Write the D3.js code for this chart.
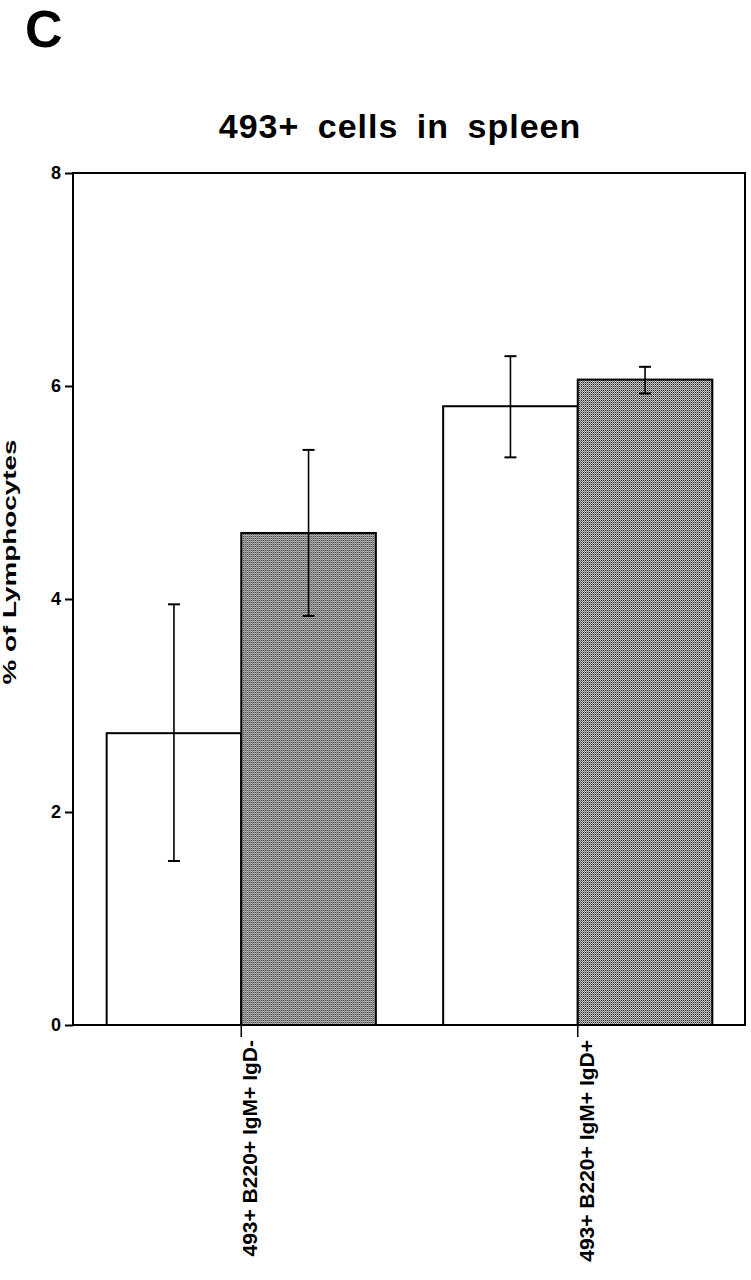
<!DOCTYPE html>
<html>
<head>
<meta charset="utf-8">
<script src="https://cdn.jsdelivr.net/npm/d3@7"></script>
<style>
  body { margin: 0; background: #fff; }
  text { font-family: "Liberation Sans", Arial, sans-serif; fill: #000; }
</style>
</head>
<body>
<div id="container"></div>
<script>
/* DATA */
const categories = ["493+ B220+ IgM+ IgD-", "493+ B220+ IgM+ IgD+"];
const series = ["open", "filled"];
const means = [[2.74, 4.62], [5.81, 6.06]];
const errLow = [[1.54, 3.84], [5.33, 5.93]];
const errHigh = [[3.95, 5.40], [6.28, 6.18]];
const yTicks = [0, 2, 4, 6, 8];

/* CONSTANTS */
const width = 751, height = 1280;
const margin = { top: 173, right: 5, bottom: 255, left: 73 };

const svg = d3.select("#container")
  .append("svg")
  .attr("width", width)
  .attr("height", height);

// stipple pattern for the shaded bars
const defs = svg.append("defs");
const pat = defs.append("pattern")
  .attr("id", "stipple")
  .attr("width", 2).attr("height", 2)
  .attr("patternUnits", "userSpaceOnUse");
pat.append("rect").attr("width", 2).attr("height", 2).attr("fill", "#d8d8d8");
pat.append("rect").attr("width", 1).attr("height", 1).attr("fill", "#111");
pat.append("rect").attr("x", 1).attr("y", 1).attr("width", 1).attr("height", 1).attr("fill", "#707070");

// SCALES
const y = d3.scaleLinear()
  .domain([0, 8])
  .range([height - margin.bottom, margin.top]);

const x0 = d3.scaleBand()
  .domain(categories)
  .range([margin.left, width - margin.right])
  .paddingInner(0.2)
  .paddingOuter(0.1);

const x1 = d3.scaleBand()
  .domain(series)
  .range([0, x0.bandwidth()]);

// PANEL LETTER + TITLE
svg.append("text")
  .attr("x", 25).attr("y", 47)
  .style("font-size", "52px").style("font-weight", "bold")
  .text("C");

svg.append("text")
  .attr("x", 400).attr("y", 138)
  .attr("text-anchor", "middle")
  .style("font-size", "34px").style("font-weight", "bold")
  .style("letter-spacing", "1px")
  .style("word-spacing", "8px")
  .text("493+ cells in spleen");

// BARS
const groups = svg.selectAll("g.group")
  .data(categories)
  .join("g")
  .attr("class", "group")
  .attr("transform", d => `translate(${x0(d)},0)`);

groups.each(function (cat, i) {
  const g = d3.select(this);
  series.forEach((s, j) => {
    g.append("rect")
      .attr("x", x1(s))
      .attr("y", y(means[i][j]))
      .attr("width", x1.bandwidth())
      .attr("height", y(0) - y(means[i][j]))
      .attr("fill", j === 0 ? "#fff" : "url(#stipple)")
      .attr("stroke", "#000")
      .attr("stroke-width", 2);
  });
});

// ERROR BARS
groups.each(function (cat, i) {
  const g = d3.select(this);
  series.forEach((s, j) => {
    const cx = x1(s) + x1.bandwidth() / 2;
    g.append("line")
      .attr("x1", cx).attr("x2", cx)
      .attr("y1", y(errLow[i][j])).attr("y2", y(errHigh[i][j]))
      .attr("stroke", "#000").attr("stroke-width", 1.6);
    [errLow[i][j], errHigh[i][j]].forEach(v => {
      g.append("line")
        .attr("x1", cx - 6).attr("x2", cx + 6)
        .attr("y1", y(v)).attr("y2", y(v))
        .attr("stroke", "#000").attr("stroke-width", 2);
    });
  });
});

// FRAME
svg.append("rect")
  .attr("x", margin.left)
  .attr("y", margin.top)
  .attr("width", width - margin.left - margin.right - 1)
  .attr("height", y(0) - margin.top)
  .attr("fill", "none")
  .attr("stroke", "#000")
  .attr("stroke-width", 2);

// Y AXIS
const yAxis = svg.append("g")
  .attr("transform", `translate(${margin.left},0)`)
  .call(d3.axisLeft(y).tickValues(yTicks).tickSize(8).tickSizeOuter(0).tickFormat(d3.format("d")));
yAxis.select(".domain").remove();
yAxis.selectAll(".tick line").attr("stroke", "#000").attr("stroke-width", 2);
yAxis.selectAll(".tick text")
  .attr("x", -12)
  .style("font-size", "18px").style("font-weight", "bold")
  .style("font-family", "Liberation Sans, Arial, sans-serif");

svg.append("text")
  .attr("transform", `translate(16,${562}) rotate(-90)`)
  .attr("text-anchor", "middle")
  .attr("textLength", 245)
  .attr("lengthAdjust", "spacingAndGlyphs")
  .style("font-size", "18px").style("font-weight", "bold")
  .text("% of Lymphocytes");

// X AXIS (category ticks at group centres)
const xAxis = svg.append("g")
  .attr("transform", `translate(0,${y(0)})`)
  .call(d3.axisBottom(x0).tickSize(12).tickSizeOuter(0));
xAxis.select(".domain").remove();
xAxis.selectAll(".tick line").attr("stroke", "#000").attr("stroke-width", 1.5);
xAxis.selectAll(".tick text")
  .attr("transform", "rotate(-90)")
  .attr("text-anchor", "end")
  .attr("x", -15)
  .attr("y", 0)
  .attr("dy", "0.76em")
  .style("font-size", "21px").style("font-weight", "bold")
  .style("font-family", "Liberation Sans, Arial, sans-serif");
</script>
</body>
</html>
